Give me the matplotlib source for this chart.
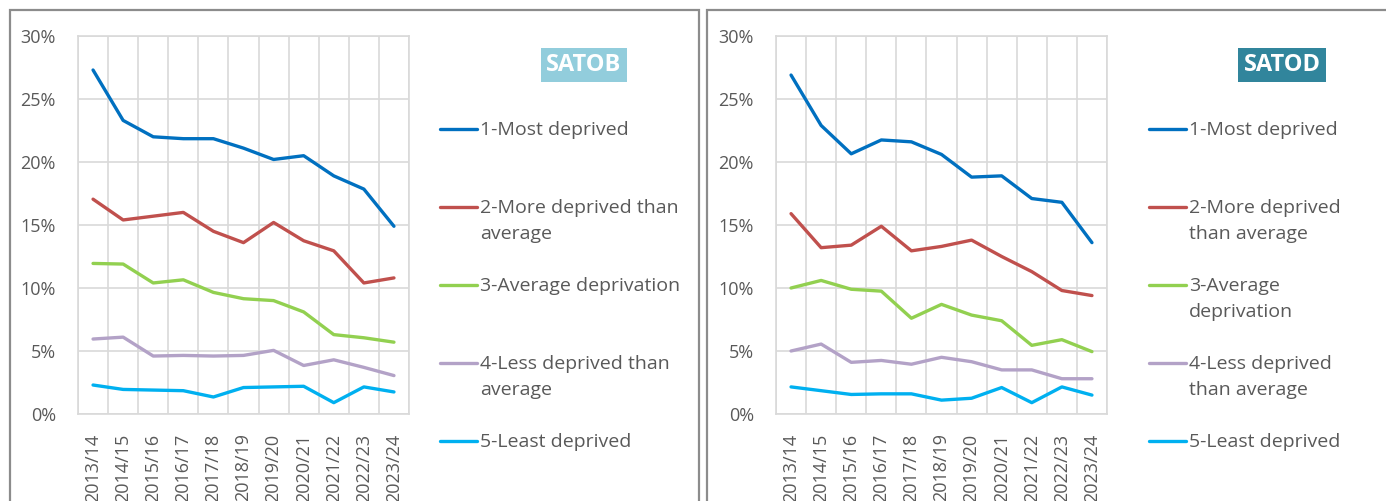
import textwrap
import numpy as np
import matplotlib
matplotlib.use("Agg")
import matplotlib.pyplot as plt
from matplotlib.patches import Rectangle
from matplotlib.lines import Line2D

plt.rcParams["font.family"] = ["Open Sans", "DejaVu Sans"]

# ---- data -------------------------------------------------------------
years = ["2013/14", "2014/15", "2015/16", "2016/17", "2017/18", "2018/19",
         "2019/20", "2020/21", "2021/22", "2022/23", "2023/24"]
series_names = ["1-Most deprived", "2-More deprived than average",
                "3-Average deprivation", "4-Less deprived than average",
                "5-Least deprived"]

# SATOB (%)
satob_1 = [27.3, 23.3, 22.0, 21.85, 21.85, 21.1, 20.2, 20.5, 18.9, 17.85, 14.9]
satob_2 = [17.05, 15.4, 15.7, 16.0, 14.5, 13.6, 15.2, 13.75, 12.95, 10.4, 10.8]
satob_3 = [11.95, 11.9, 10.4, 10.65, 9.65, 9.15, 9.0, 8.1, 6.3, 6.05, 5.7]
satob_4 = [5.95, 6.1, 4.6, 4.65, 4.6, 4.65, 5.05, 3.85, 4.3, 3.7, 3.05]
satob_5 = [2.3, 1.95, 1.9, 1.85, 1.35, 2.1, 2.15, 2.2, 0.9, 2.15, 1.75]

# SATOD (%)
satod_1 = [26.9, 22.9, 20.65, 21.75, 21.6, 20.6, 18.8, 18.9, 17.1, 16.8, 13.6]
satod_2 = [15.9, 13.2, 13.4, 14.9, 12.95, 13.3, 13.8, 12.5, 11.3, 9.8, 9.4]
satod_3 = [10.0, 10.6, 9.9, 9.75, 7.6, 8.7, 7.85, 7.4, 5.45, 5.9, 4.95]
satod_4 = [5.0, 5.55, 4.1, 4.25, 3.95, 4.5, 4.15, 3.5, 3.5, 2.8, 2.8]
satod_5 = [2.15, 1.85, 1.55, 1.6, 1.6, 1.1, 1.25, 2.1, 0.9, 2.15, 1.5]

COLORS = ["#0070C0", "#C0504D", "#92D050", "#B3A2C7", "#00B0F0"]
TEXT = "#595959"
GRID = "#D9D9D9"
W, H = 1386, 501


def fx(px):
    return px / W


def fy(py):
    return 1 - py / H


def draw_panel(fig, left_px, series, title, title_bg, title_x, legend_x, wrap_w):
    ax = fig.add_axes([fx(left_px), fy(414), fx(331), (414 - 36) / H])
    x = np.arange(len(years))
    for vals, c in zip(series, COLORS):
        ax.plot(x, vals, color=c, lw=2.4, solid_capstyle="round",
                solid_joinstyle="round", zorder=3)
    ax.set_xlim(-0.5, len(years) - 0.5)
    ax.set_ylim(0, 30)
    ax.set_yticks(range(0, 31, 5))
    ax.set_yticklabels([f"{v}%" for v in range(0, 31, 5)])
    ax.set_xticks(x)
    ax.set_xticklabels(years, rotation=90, va="top", ha="center")
    ax.set_xticks(np.arange(-0.5, len(years)), minor=True)
    ax.grid(True, axis="y", which="major", color=GRID, lw=1.2, zorder=0)
    ax.grid(True, axis="x", which="minor", color=GRID, lw=1.2, zorder=0)
    ax.tick_params(axis="both", which="both", length=0, colors=TEXT,
                   labelsize=13)
    ax.tick_params(axis="y", pad=16)
    ax.tick_params(axis="x", pad=14)
    for s in ax.spines.values():
        s.set_color(GRID)
        s.set_linewidth(1.2)

    # title badge
    fig.text(fx(title_x), fy(65), title, ha="center", va="center",
             color="white", fontsize=17, fontweight="bold",
             bbox=dict(boxstyle="square,pad=0.22", facecolor=title_bg,
                       edgecolor="none"))

    # legend, Excel style: equal steps, marker on the first text line
    for i, (name, c) in enumerate(zip(series_names, COLORS)):
        y = 129 + 78 * i
        fig.add_artist(Line2D([fx(legend_x), fx(legend_x + 37)], [fy(y), fy(y)],
                              color=c, lw=2.4, solid_capstyle="round"))
        fig.text(fx(legend_x + 40), fy(y - 8), textwrap.fill(name, wrap_w),
                 ha="left", va="top", color=TEXT, fontsize=14,
                 linespacing=1.55)


fig = plt.figure(figsize=(W / 100, H / 100), dpi=100)
fig.patch.set_facecolor("white")

# panel frames
fig.add_artist(Rectangle((fx(10), -0.1), fx(689), fy(10) + 0.1,
                         transform=fig.transFigure, fill=False,
                         edgecolor="#8C8C8C", lw=1.6))
fig.add_artist(Rectangle((fx(707), -0.1), fx(700), fy(10) + 0.1,
                         transform=fig.transFigure, fill=False,
                         edgecolor="#8C8C8C", lw=1.6))

draw_panel(fig, 78, [satob_1, satob_2, satob_3, satob_4, satob_5],
           "SATOB", "#92CDDC", 584, 440, 21)
draw_panel(fig, 776, [satod_1, satod_2, satod_3, satod_4, satod_5],
           "SATOD", "#31859C", 1282, 1149, 16)

fig.savefig("out.png", dpi=100, facecolor="white")
